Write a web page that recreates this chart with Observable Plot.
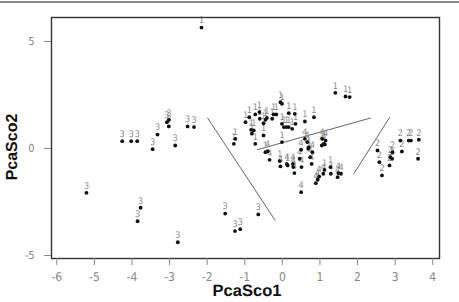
<!DOCTYPE html>
<html>
<head>
<meta charset="utf-8">
<script src="https://cdn.jsdelivr.net/npm/d3@7"></script>
<script src="https://cdn.jsdelivr.net/npm/@observablehq/plot@0.6"></script>
<style>
  html, body { margin: 0; padding: 0; background: #fff; }
  #wrap { position: relative; width: 459px; height: 302px; }
  #topline { position: absolute; left: 0; top: 1px; width: 459px; height: 2px; background: #8a8a8a; }
  svg text { text-rendering: geometricPrecision; }
</style>
</head>
<body>
<div id="wrap"><div id="topline"></div></div>
<script>
// class 1 points [PcaSco1, PcaSco2]
const class1 = [[-2.15,5.65],[1.41,2.60],[1.68,2.43],[1.79,2.40],[-0.05,2.16],[-0.01,2.09],[0.17,1.65],[0.33,1.62],[0.35,1.15],[0.60,1.26],[0.84,1.46],[-0.98,1.23],[-0.88,1.46],[-0.72,1.59],[-0.61,1.70],[-0.60,1.39],[-0.45,1.34],[-0.41,1.43],[-0.50,1.18],[-0.27,1.39],[-0.23,1.59],[-0.16,1.59],[-0.01,1.15],[0.04,1.0],[0.11,1.0],[0.17,1.0],[0.26,0.92],[-0.83,0.87],[-0.76,0.84],[-0.50,0.61],[-0.81,0.69],[-0.72,0.22],[-1.25,0.45],[-1.29,0.22],[-0.01,0.30],[-0.45,-0.17],[0.70,0.06],[-0.07,-0.59],[0.14,-0.79],[1.12,-1.0],[1.28,-0.87],[1.13,0.19]];
// class 2 points
const class2 = [[2.53,-0.09],[2.58,-0.64],[2.65,-1.26],[2.87,-0.41],[2.92,-0.48],[2.93,-0.17],[2.85,-0.79],[3.18,-0.14],[3.14,0.37],[3.36,0.37],[3.42,0.37],[3.63,0.41],[3.61,-0.48]];
// class 3 points
const class3 = [[-4.26,0.34],[-4.02,0.34],[-3.86,0.34],[-3.45,-0.03],[-3.32,0.65],[-3.07,1.23],[-3.02,1.34],[-3.02,1.03],[-2.85,0.14],[-2.52,1.03],[-2.35,1.0],[-3.77,-2.77],[-3.85,-3.40],[-2.78,-4.38],[-5.21,-2.07],[-1.52,-3.04],[-0.64,-3.08],[-1.26,-3.86],[-1.12,-3.77]];
// class 4 points
const class4 = [[0.60,0.45],[0.66,0.30],[1.06,0.45],[1.15,0.37],[1.10,0.22],[1.05,0.14],[-0.39,-0.13],[-0.34,-0.53],[-0.05,-0.84],[0.12,-0.72],[0.28,-0.72],[0.29,-0.87],[0.32,-1.15],[0.50,-0.06],[0.69,-0.01],[0.80,-0.17],[0.74,-0.41],[0.78,-0.72],[0.51,-0.87],[1.09,-1.18],[1.29,-1.18],[0.98,-1.31],[0.94,-1.46],[0.89,-1.62],[1.49,-1.15],[1.56,-1.18],[1.47,-1.34],[0.50,-2.04],[0.46,-0.48]];
// separating line segments [x1, y1, x2, y2]
const boundaries = [[-1.99,1.43,-0.19,-3.36],[-0.67,-0.06,2.36,1.43],[2.86,1.47,1.89,-1.21]];
const xTicks = [-6,-5,-4,-3,-2,-1,0,1,2,3,4];
const yTicks = [-5,0,5];
const xTitle = "PcaSco1";
const yTitle = "PcaSco2";

const points = [
  ...class1.map(([x,y]) => ({x, y, c: "1"})),
  ...class2.map(([x,y]) => ({x, y, c: "2"})),
  ...class3.map(([x,y]) => ({x, y, c: "3"})),
  ...class4.map(([x,y]) => ({x, y, c: "4"}))
];
const segs = boundaries.map(([x1,y1,x2,y2]) => ({x1,y1,x2,y2}));

const chart = Plot.plot({
  width: 459,
  height: 302,
  marginLeft: 51,
  marginRight: 20,
  marginTop: 17,
  marginBottom: 44,
  style: {fontFamily: "'DejaVu Sans Condensed', 'Liberation Sans Narrow', Arial, sans-serif", background: "transparent"},
  x: {domain: [-6.14, 4.18]},
  y: {domain: [-5.14, 6.12]},
  marks: [
    Plot.link(segs, {x1: "x1", y1: "y1", x2: "x2", y2: "y2", stroke: "#666", strokeWidth: 1}),
    Plot.text(points, {x: "x", y: "y", text: "c", dy: -7, fill: "#8a8a8a", fontSize: 9, fontFamily: "'DejaVu Sans Condensed', sans-serif", fontWeight: 300}),
    Plot.dot(points, {x: "x", y: "y", r: 1.9, fill: "#111", stroke: "none"}),
    Plot.frame({stroke: "#333", strokeWidth: 1.4}),
    Plot.axisX({ticks: xTicks, tickSize: 7, tickPadding: 7, stroke: "#888", color: "#888", fontSize: 12, label: null, tickFormat: d => String(d)}),
    Plot.axisY({ticks: yTicks, tickSize: 7, tickPadding: 10, stroke: "#888", color: "#888", fontSize: 11, label: null, tickFormat: d => String(d)})
  ]
});
const wrap = document.getElementById("wrap");
wrap.appendChild(chart);
chart.style.position = "absolute";
chart.style.left = "0";
chart.style.top = "0";

// axis titles as real text
const svg = d3.select(chart);
svg.append("text").attr("x", 247).attr("y", 296).attr("text-anchor", "middle")
  .style("font-family", "'Liberation Sans', Arial, sans-serif").style("font-weight", "bold").style("font-size", "16.5px").attr("fill", "#111").text(xTitle);
svg.append("text").attr("transform", "translate(17,147) rotate(-90)").attr("text-anchor", "middle")
  .style("font-family", "'Liberation Sans', Arial, sans-serif").style("font-weight", "bold").style("font-size", "16px").attr("fill", "#111").text(yTitle);
</script>
</body>
</html>
